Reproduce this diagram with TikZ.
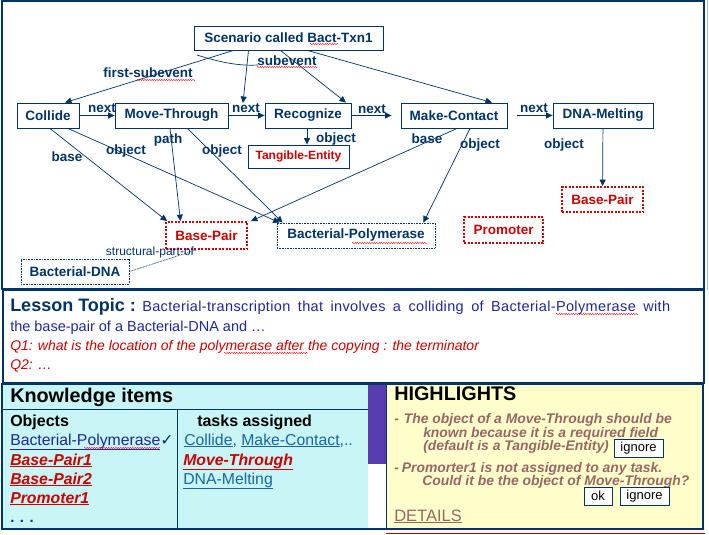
\documentclass[tikz,border=0pt]{standalone}
\usepackage{fontspec}
\setmainfont{Liberation Sans}
\newfontfamily\symfont{DejaVu Sans}
\usetikzlibrary{arrows.meta,decorations.pathmorphing}
\definecolor{navy}{RGB}{0,51,102}
\definecolor{cred}{RGB}{204,0,0}
\definecolor{topicblue}{RGB}{30,40,150}
\definecolor{kcyan}{RGB}{200,245,246}
\definecolor{hyellow}{RGB}{255,255,204}
\definecolor{scroll}{RGB}{88,60,176}
\definecolor{hbrown}{RGB}{153,102,102}
\definecolor{linkblue}{RGB}{26,102,160}
\newcommand\fsz[2]{\fontsize{#1}{#2}\selectfont}

\begin{document}
\begin{tikzpicture}[x=1pt,y=-1pt,line width=.5pt,
  ev/.style={draw=navy,line width=.9pt,inner sep=0pt,minimum height=25pt,text=navy,font=\bfseries\fsz{13.5}{16}},
  guess/.style={ev,draw=cred,text=cred,line width=1.8pt,dash pattern=on 2pt off 1.5pt},
  known/.style={ev,line width=.7pt,dash pattern=on .8pt off .8pt},
  lbl/.style={inner sep=0pt,text=navy,font=\bfseries\fsz{13.5}{16}},
  rel/.style={draw=navy,line width=.7pt,-{Triangle[length=6.5pt,width=6pt]}},
  squig/.style={draw=red,line width=.4pt,decorate,decoration={snake,amplitude=.6pt,segment length=2.4pt}},
  txt/.style={anchor=base west,inner sep=0pt},
  btn/.style={draw=navy,fill=white,line width=.9pt,inner sep=0pt,minimum height=18pt,font=\fsz{13}{15}}]
\path[use as bounding box] (0,0) rectangle (709,535);

% scenario graph
\draw[navy,line width=1.5pt] (2,1) rectangle (704,289);
\draw[gray!50,line width=1pt] (707,0) -- (707,290);
\node[ev,minimum width=189pt,minimum height=24pt] (scen) at (288.5,38) {Scenario called Bact-Txn1};
\node[ev,minimum width=62pt] (collide) at (48,115.5) {Collide};
\node[ev,minimum width=113pt] (move) at (171.5,115.5) {Move-Through};
\node[ev,minimum width=86pt] (recog) at (308,115.5) {Recognize};
\node[ev,minimum width=106pt] (mcontact) at (454,115.5) {Make-Contact};
\node[ev,minimum width=100pt] (melting) at (603,115.5) {DNA-Melting};
\node[ev,minimum width=101pt,minimum height=23pt,text=cred,font=\bfseries\fsz{12}{14}] (tangible) at (298.5,156.5) {Tangible-Entity};
\node[guess,minimum width=81pt,minimum height=27pt] (bpair) at (206.5,235.5) {Base-Pair};
\node[known,minimum width=158pt] (polym) at (356,235.5) {Bacterial-Polymerase};
\node[known,minimum width=108pt] (bdna) at (75,271.5) {Bacterial-DNA};
\node[guess,minimum width=81pt] (bpairb) at (602.5,199.5) {Base-Pair};
\node[guess,minimum width=79pt,minimum height=26pt] (promoter) at (503.5,230) {Promoter};
\coordinate (mvtop) at (243,103);

% subevents
\draw[rel] ([xshift=-55pt]scen.south) -- ([xshift=17pt]collide.north);
\draw[rel] ([xshift=-40pt]scen.south) -- (mvtop);
\draw[rel] ([xshift=-8pt]scen.south) -- ([xshift=38pt]recog.north);
\draw[rel] ([xshift=19pt]scen.south) -- ([xshift=38pt]mcontact.north);
\draw[navy,line width=.7pt] (197,55) .. controls (222,63) and (240,66) .. (258,65);
\node[lbl] (lfirst) at (148,73) {first-subevent};
\node[lbl] (lsub) at (287,61) {subevent};

% next chain
\draw[rel] (collide) -- (move);
\draw[rel] (move) -- (recog);
\draw[rel] (recog) -- ([xshift=-9pt]mcontact.west);
\draw[rel] ([xshift=10pt]mcontact.east) -- (melting);
\node[lbl] (lnexta) at (102,108) {next};
\node[lbl] (lnextb) at (246,108) {next};
\node[lbl] (lnextc) at (372,109) {next};
\node[lbl] (lnextd) at (534,108) {next};

% roles
\draw[rel] ([xshift=2pt]collide.south) -- ([xshift=2pt]bpair.north west);
\draw[rel] ([xshift=20pt]collide.south) -- ([xshift=3pt]polym.north west);
\draw[rel] ([xshift=-1.5pt]move.south) -- ([xshift=-26pt]bpair.north);
\draw[rel] ([xshift=16pt]move.south) -- ([xshift=6pt]polym.north west);
\draw[rel] ([xshift=-1pt]recog.south) -- ([xshift=8.5pt]tangible.north);
\draw[rel] ([xshift=3pt]mcontact.south) -- ([xshift=3pt]bpair.north east);
\draw[rel] ([xshift=16pt]mcontact.south) -- ([xshift=-12pt]polym.north east);
\draw[rel] (melting) -- (bpairb);
\draw[navy,line width=.7pt,dash pattern=on .8pt off .8pt] (bdna.east) -- ([xshift=-10pt]bpair.south);
\node[lbl] (lbasea) at (67,157) {base};
\node[lbl] (lobja) at (126,151) {object};
\node[lbl] (lpath) at (168,140) {path};
\node[lbl] (lobjb) at (222,151) {object};
\node[lbl] (lobjc) at (336,139) {object};
\node[lbl] (lbaseb) at (427,139) {base};
\node[lbl] (lobjd) at (480,145) {object};
\node[lbl] (lobje) at (564,145) {object};
\node[inner sep=0pt,text=navy,font=\fsz{12}{14}] (lpart) at (150,252) {structural-part-of};

% spelling marks
\draw[squig] (310,44) -- (338,44);
\draw[squig] (137,80) -- (195,80);
\draw[squig] (257,67) -- (318,67);
\draw[squig] (352,243) -- (427,243);

% lesson topic
\draw[navy,line width=2.5pt] (3,290) rectangle (704,383);
\node[txt,text=navy,font=\bfseries\fsz{18}{20}] (ltopic) at (10,311) {Lesson Topic :};
\node[txt,text=topicblue,font=\fsz{14.5}{17}\addfontfeature{LetterSpace=2.5}] (lrowa) at (142,311) {\makebox[528pt][s]{Bacterial-transcription that involves a colliding of Bacterial-Polymerase with}};
\node[txt,text=topicblue,font=\fsz{14.5}{17}] (lrowb) at (10,331) {the base-pair of a Bacterial-DNA and \dots};
\node[txt,text=cred,font=\itshape\fsz{14}{17}] (lqa) at (10,350) {Q1: what is the location of the polymerase after the copying : the terminator};
\node[txt,text=cred,font=\itshape\fsz{14}{17}] (lqb) at (10,369) {Q2: \dots};
\draw[squig] (556,314) -- (638,314);
\draw[squig] (224,353) -- (308,353);

% knowledge items
\fill[kcyan] (2,384) rectangle (368,529);
\fill[scroll] (368,385) rectangle (386,464);
\fill[white] (368,464) rectangle (386,529);
\fill[hyellow] (386,384) rectangle (703,529);
\draw[navy,line width=.8pt] (2,409) -- (368,409);
\draw[navy,line width=.8pt] (177,409) -- (177,529);
\draw[navy,line width=.8pt] (386,384) -- (386,529);
\draw[navy,line width=2.5pt] (2,384) rectangle (703,529);
\draw[cred,line width=.8pt] (386,533) -- (705,533);
\node[txt,font=\bfseries\fsz{19.8}{22}] (kitems) at (10,402) {Knowledge items};
\node[txt,font=\bfseries\fsz{16}{19}] (kobj) at (10,426) {Objects};
\node[txt,font=\bfseries\fsz{16}{19}] (ktask) at (197,426) {tasks assigned};
\node[txt,text=topicblue,font=\fsz{15.8}{18}] (kpoly) at (10,445) {\underline{Bacterial-Polymerase}{\symfont\color{navy}✓}};
\draw[squig] (84,448) -- (160,448);
\node[txt,text=cred,font=\bfseries\itshape\fsz{15.8}{18}] (kbpa) at (10,465) {\underline{Base-Pair1}};
\node[txt,text=cred,font=\bfseries\itshape\fsz{15.8}{18}] (kbpb) at (10,484) {\underline{Base-Pair2}};
\node[txt,text=cred,font=\bfseries\itshape\fsz{15.8}{18}] (kprom) at (10,503) {\underline{Promoter1}};
\node[txt,text=topicblue,font=\bfseries\fsz{15}{18}] (kmore) at (10,522) {. . .};
\node[txt,text=linkblue,font=\fsz{15.8}{18}] (kcoll) at (184,445) {\underline{Collide}, \underline{Make-Contact},..};
\node[txt,text=cred,font=\bfseries\itshape\fsz{15.8}{18}] (kmove) at (183,465) {\underline{Move-Through}};
\node[txt,text=linkblue,font=\fsz{15.8}{18}] (kmelt) at (183,484) {\underline{DNA-Melting}};

% highlights
\node[txt,font=\bfseries\fsz{19.8}{22}] (hhead) at (394,400) {HIGHLIGHTS};
\node[txt,text=hbrown,font=\bfseries\itshape\fsz{13.9}{16}] (hrowa) at (394,423) {-\hspace{5pt}The object of a Move-Through should be};
\node[txt,text=hbrown,font=\bfseries\itshape\fsz{13.9}{16}] (hrowb) at (423,437) {known because it is a required field};
\node[txt,text=hbrown,font=\bfseries\itshape\fsz{13.9}{16}] (hrowc) at (423,450) {(default is a Tangible-Entity)};
\node[btn,minimum width=49pt] (hign) at (638.5,448) {ignore};
\node[txt,text=hbrown,font=\bfseries\itshape\fsz{13.9}{16}] (hrowd) at (394,472) {-\hspace{3pt}Promorter1 is not assigned to any task.};
\node[txt,text=hbrown,font=\bfseries\itshape\fsz{13.9}{16}] (hrowe) at (422,485) {Could it be the object of Move-Through?};
\node[btn,minimum width=28pt] (hok) at (598,496) {ok};
\node[btn,minimum width=49pt] (hignb) at (644.5,496) {ignore};
\node[txt,text=hbrown,font=\fsz{16.5}{19}] (hdet) at (394,521) {\underline{DETAILS}};
\end{tikzpicture}
\end{document}
